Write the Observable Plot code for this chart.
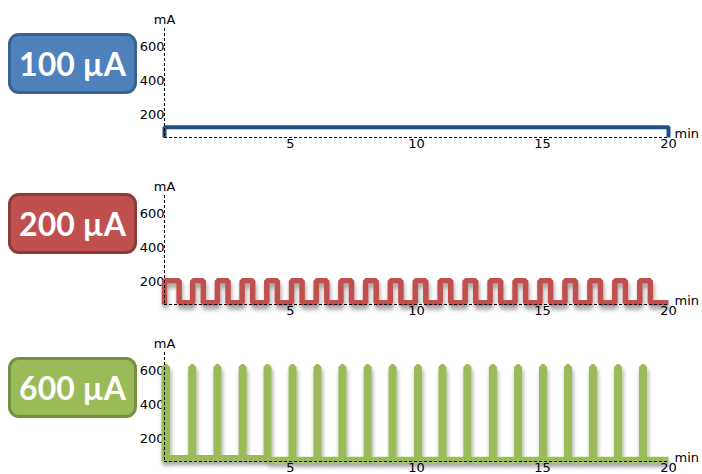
<!DOCTYPE html>
<html><head><meta charset="utf-8">
<script src="https://cdn.jsdelivr.net/npm/d3@7"></script>
<script src="https://cdn.jsdelivr.net/npm/@observablehq/plot@0.6"></script>
<style>
html,body{margin:0;padding:0;background:#fff;overflow:hidden;width:702px;height:474px}
#root{position:relative;width:702px;height:474px}
.badge{position:absolute;left:8px;width:123px;height:55px;border:3px solid;border-radius:11px;color:#fff;font:700 32px Lato,sans-serif;display:flex;align-items:center;justify-content:center;box-sizing:content-box}
.panel{position:absolute;left:0}
</style></head><body><div id="root"></div>
<script>
// ---- data ----
const badgeLabels = ["100 µA", "200 µA", "600 µA"];
const badgeFills = ["#4F81BD", "#C0504D", "#9BBB59"];
const badgeBorders = ["#3A6291", "#8E3A38", "#73903F"];
const lineColors = ["#1F4E8C", "#C0504D", "#9BBB59"];
const xTicks = [5, 10, 15, 20];
const yTicks = [200, 400, 600];
const yBase = 65;          // value at the drawn baseline (mA)
const yTop = 705;          // top of the y axis (mA)
const xMax = 20;           // min

// 100 µA: constant level
const blueLevel = 125;

// 200 µA: square pulses
const redHigh = 205;
const redLow = 75;
const redStarts = [0, 1.12, 2.1, 3.08, 4.06, 5.04, 6.02, 7.0, 7.98, 8.96, 9.95, 10.94, 11.93, 12.92, 13.91, 14.9, 15.89, 16.88, 17.87, 18.86];
const redEnds   = [0.58, 1.54, 2.52, 3.5, 4.48, 5.46, 6.44, 7.42, 8.4, 9.38, 10.37, 11.36, 12.35, 13.34, 14.33, 15.32, 16.31, 17.3, 18.29, 19.28];

// 600 µA: narrow pulses
const greenHigh = 620;
const greenLows = [85, 85, 85, 85, 75, 75, 75, 75, 75, 75, 75, 75, 75, 75, 75, 75, 75, 75, 75, 75];
const greenStarts = [0, 1.06, 2.06, 3.06, 4.05, 5.04, 6.03, 7.02, 8.02, 9.01, 10.02, 10.99, 11.98, 12.99, 13.99, 14.98, 15.97, 16.96, 17.96, 18.95];
const greenEnds   = [0.1, 1.14, 2.14, 3.14, 4.13, 5.12, 6.11, 7.1, 8.1, 9.09, 10.1, 11.07, 12.06, 13.07, 14.07, 15.06, 16.05, 17.04, 18.04, 19.03];

// ---- build step tables ----
function pulses(starts, ends, high, lows) {
  const pts = [{t: 0, v: yBase}];
  starts.forEach((s, i) => {
    const low = Array.isArray(lows) ? lows[i] : lows;
    pts.push({t: s, v: i === 0 ? yBase : pts[pts.length - 1].v});
    pts.push({t: s, v: high});
    pts.push({t: ends[i], v: high});
    pts.push({t: ends[i], v: low});
  });
  pts.push({t: xMax, v: pts[pts.length - 1].v});
  return pts;
}
const series = [
  [{t: 0, v: yBase}, {t: 0, v: blueLevel}, {t: xMax, v: blueLevel}, {t: xMax, v: yBase}],
  pulses(redStarts, redEnds, redHigh, redLow),
  pulses(greenStarts, greenEnds, greenHigh, greenLows)
];

const panelTops = [4, 171, 328];
const badgeTops = [33, 193, 357];
const strokeWidths = [4, 5.5, 6];
const shadows = [false, true, true];

const root = document.getElementById("root");

series.forEach((pts, i) => {
  const plot = Plot.plot({
    width: 702, height: 153,
    marginLeft: 164, marginRight: 34, marginTop: 24, marginBottom: 20,
    style: {fontFamily: "DejaVu Sans, sans-serif", fontSize: "13px", color: "#000", background: "transparent", overflow: "visible"},
    x: {domain: [0, xMax], ticks: xTicks, tickSize: 0, tickPadding: 1, label: null},
    y: {domain: [yBase, yTop], ticks: yTicks, tickSize: 0, tickPadding: 0, label: null},
    marks: [
      Plot.line(pts, {x: "t", y: "v", stroke: lineColors[i], strokeWidth: strokeWidths[i], strokeLinejoin: "miter", strokeLinecap: "butt", curve: "linear"}),
      Plot.ruleX([0], {stroke: "#000", strokeWidth: 1, strokeDasharray: "3,2"}),
      Plot.ruleY([yBase], {stroke: "#000", strokeWidth: 1, strokeDasharray: "3,2"}),
      Plot.text([{t: 0, v: yTop, s: "mA"}], {x: "t", y: "v", text: "s", dy: -9, fontSize: 13}),
      Plot.text([{t: xMax, v: yBase, s: "min"}], {x: "t", y: "v", text: "s", dx: 6, dy: -4, textAnchor: "start", fontSize: 13})
    ]
  });
  if (shadows[i]) {
    const id = "sh" + i;
    d3.select(plot).append("defs").html(
      `<filter id="${id}" x="-5%" y="-30%" width="110%" height="170%"><feDropShadow dx="1" dy="4" stdDeviation="2" flood-color="#000" flood-opacity="0.38"/></filter>`);
    d3.select(plot).select('g[aria-label="line"] path').attr("filter", `url(#${id})`);
  }
  const wrap = document.createElement("div");
  wrap.className = "panel";
  wrap.style.top = panelTops[i] + "px";
  wrap.appendChild(plot);
  root.appendChild(wrap);

  const b = document.createElement("div");
  b.className = "badge";
  b.style.top = badgeTops[i] + "px";
  b.style.background = badgeFills[i];
  b.style.borderColor = badgeBorders[i];
  b.textContent = badgeLabels[i];
  root.appendChild(b);
});
</script>
</body></html>
